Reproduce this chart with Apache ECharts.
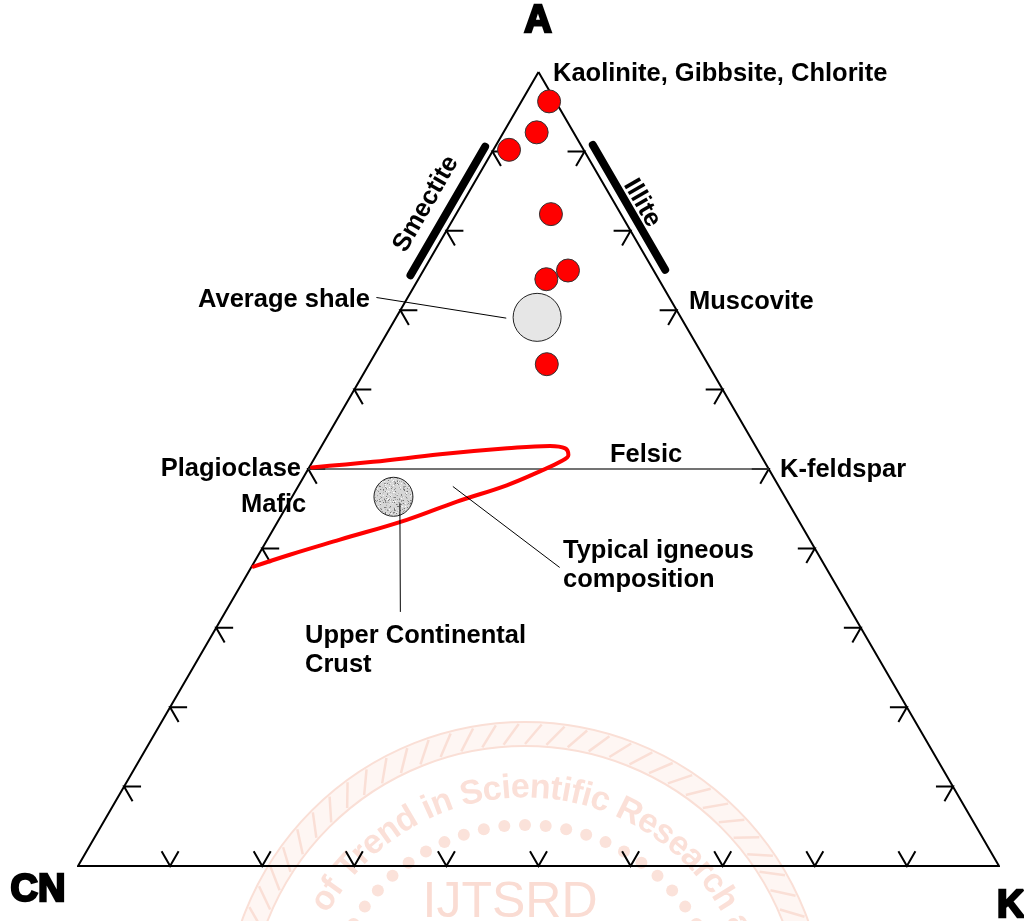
<!DOCTYPE html>
<html>
<head>
<meta charset="utf-8">
<script src="https://cdn.jsdelivr.net/npm/echarts@6/dist/echarts.min.js"></script>
<style>
  html, body { margin: 0; padding: 0; background: #fff; }
  #chart { width: 1024px; height: 921px; }
</style>
</head>
<body>
<div id="chart"></div>
<script>
// A–CN–K ternary diagram (molar %), values given as [A, CN, K]

// sample compositions (red dots)
const sampleA  = [96.3, 92.4, 90.2, 82.1, 75.0, 73.9, 63.2];
const sampleCN = [0.7, 4.0, 8.1, 7.6, 9.3, 12.2, 17.5];
const sampleK  = [3.0, 3.6, 1.7, 10.3, 15.7, 13.9, 19.3];

// reference compositions
const averageShale = [69.1, 15.6, 15.3];
const upperCrust   = [46.5, 42.5, 11.0];

// typical igneous composition trend (closed loop from plagioclase)
const igneousA  = [50.2, 50.9, 51.9, 52.6, 52.9, 52.6, 51.8, 50.9, 49.7, 48.0, 45.9, 43.6, 41.1, 39.2, 37.7];
const igneousCN = [49.5, 42.5, 34.8, 27.1, 22.3, 20.8, 20.9, 22.2, 25.0, 29.5, 35.9, 42.5, 51.0, 57.4, 62.1];
const igneousK  = [0.3, 6.6, 13.4, 20.3, 24.8, 26.6, 27.4, 26.9, 25.3, 22.6, 18.2, 13.9, 7.9, 3.4, 0.2];

// plagioclase – K-feldspar join
const feldsparJoin = [[50, 50, 0], [50, 0, 50]];

// clay mineral ranges drawn just outside the edges
const smectiteBar = [[90.6, 10.5, -1.1], [74.4, 26.7, -1.1]];
const illiteBar   = [[90.8, -1.3, 10.5], [75.1, -1.3, 26.2]];

// leader lines for annotations
const shaleLeader   = [[71.6, 31.8, -3.4], [69.0, 19.0, 12.0]];
const igneousLeader = [[47.8, 35.4, 16.8], [37.6, 28.9, 33.5]];
const crustLeader   = [[45.7, 42.2, 12.1], [32.0, 49.0, 19.0]];

// tick positions along each edge (%)
const tickValues = [10, 20, 30, 40, 50, 60, 70, 80, 90];

// ternary -> cartesian (x: 0..100 across the base, y: A in %)
function tern(a, cn, k) {
  const s = a + cn + k;
  return [(k + a / 2) / s * 100, a / s * 100];
}
const ternList = (list) => list.map(p => tern(p[0], p[1], p[2]));

const triangle = ternList([[100, 0, 0], [0, 100, 0], [0, 0, 100], [100, 0, 0]]);
const samplePts = sampleA.map((a, i) => tern(a, sampleCN[i], sampleK[i]));
const igneousPts = igneousA.map((a, i) => tern(a, igneousCN[i], igneousK[i]));

const bottomTicks = tickValues.map(v => tern(0, 100 - v, v));
const leftTicks   = tickValues.map(v => tern(v, 100 - v, 0));
const rightTicks  = tickValues.map(v => tern(v, 0, 100 - v));

// speckled fill for the crust symbol
function speckle() {
  const c = document.createElement('canvas');
  c.width = c.height = 48;
  const g = c.getContext('2d');
  g.fillStyle = '#d6d6d6';
  g.fillRect(0, 0, 48, 48);
  let s = 7;
  const next = () => { s = (s * 16807) % 2147483647; return s / 2147483647; };
  for (let i = 0; i < 900; i++) {
    const v = Math.floor(110 + next() * 145);
    g.fillStyle = 'rgb(' + v + ',' + v + ',' + v + ')';
    g.fillRect(Math.floor(next() * 48), Math.floor(next() * 48), 1, 1);
  }
  return c;
}
const speckleFill = { image: speckle(), repeat: 'repeat' };

function tickSeries(points, arms) {
  return {
    type: 'custom',
    coordinateSystem: 'cartesian2d',
    data: points,
    silent: true,
    z: 3,
    renderItem(params, api) {
      const p = api.coord([api.value(0), api.value(1)]);
      const L = 17;
      return {
        type: 'polyline',
        shape: { points: [
          [p[0] + arms[0][0] * L, p[1] + arms[0][1] * L],
          p,
          [p[0] + arms[1][0] * L, p[1] + arms[1][1] * L]
        ] },
        style: { stroke: '#000', lineWidth: 2, fill: null }
      };
    }
  };
}

function plainLine(data, color, width, z, cap) {
  return {
    type: 'line',
    data: data,
    symbol: 'none',
    silent: true,
    z: z,
    lineStyle: { color: color, width: width, cap: cap || 'butt', join: 'miter' },
    animation: false
  };
}

// journal seal behind the plot
const sealColor = '#fadfd6';
const wmCx = 525, wmCy = 1023;
const seal = [];
seal.push({
  type: 'ring', silent: true, z: 0,
  shape: { cx: wmCx, cy: wmCy, r: 301, r0: 277 },
  style: { fill: '#fef6f3', stroke: sealColor, lineWidth: 2 }
});
for (let d = -88; d <= 88; d += 4.4) {
  const t1 = d * Math.PI / 180, t2 = (d + 3.2) * Math.PI / 180;
  seal.push({
    type: 'line', silent: true, z: 0,
    shape: {
      x1: wmCx + 279 * Math.sin(t1), y1: wmCy - 279 * Math.cos(t1),
      x2: wmCx + 299 * Math.sin(t2), y2: wmCy - 299 * Math.cos(t2)
    },
    style: { stroke: sealColor, lineWidth: 2.5 }
  });
}
for (let d = -84; d <= 84; d += 6) {
  const t = d * Math.PI / 180;
  seal.push({
    type: 'circle', silent: true, z: 0,
    shape: { cx: wmCx + 198 * Math.sin(t), cy: wmCy - 198 * Math.cos(t), r: 6 },
    style: { fill: '#fbe2da' }
  });
}
(function () {
  const font = "bold 34px 'Liberation Sans'";
  const ctx = document.createElement('canvas').getContext('2d');
  ctx.font = font;
  const R = 235;
  let ang = -61 * Math.PI / 180;
  for (const ch of 'of Trend in Scientific Research and') {
    const w = ctx.measureText(ch).width;
    const mid = ang + (w / 2) / R;
    if (ch !== ' ') {
      seal.push({
        type: 'text', silent: true, z: 0,
        x: wmCx + R * Math.sin(mid), y: wmCy - R * Math.cos(mid),
        rotation: -mid,
        style: { text: ch, font: font, fill: '#fbe0d8', textAlign: 'center', textVerticalAlign: 'middle' }
      });
    }
    ang += w / R;
  }
})();
seal.push({
  type: 'text', silent: true, z: 0, x: 510, y: 903,
  style: { text: 'IJTSRD', font: "50px 'Liberation Sans'", fill: '#fadcd3', textAlign: 'center', textVerticalAlign: 'middle' }
});

// text annotations: [text, x, y, align, rotation (deg), font]
const labelFont = "bold 25.5px 'Liberation Sans'";
const vertexFont = "bold 38px 'Liberation Sans'";
const labels = [
  ['Kaolinite, Gibbsite, Chlorite', 553, 74, 'left', 0, labelFont],
  ['Muscovite', 689, 302, 'left', 0, labelFont],
  ['Average shale', 370, 300, 'right', 0, labelFont],
  ['Plagioclase', 301, 469, 'right', 0, labelFont],
  ['Mafic', 241, 505, 'left', 0, labelFont],
  ['Felsic', 610, 455, 'left', 0, labelFont],
  ['K-feldspar', 780, 470, 'left', 0, labelFont],
  ['Typical igneous', 563, 551, 'left', 0, labelFont],
  ['composition', 563, 580, 'left', 0, labelFont],
  ['Upper Continental', 305, 636, 'left', 0, labelFont],
  ['Crust', 305, 665, 'left', 0, labelFont],
  ['Smectite', 426, 204, 'center', 60, labelFont],
  ['Illite', 642, 203, 'center', -60, labelFont]
];
const vertexLabels = [
  ['A', 538, 22, 'center'],
  ['CN', 38, 891, 'center'],
  ['K', 997, 907, 'left']
];

const textEls = labels.map(l => ({
  type: 'text', silent: true, z: 100,
  x: l[1], y: l[2], rotation: l[4] * Math.PI / 180,
  style: { text: l[0], font: l[5], fill: '#000', textAlign: l[3], textVerticalAlign: 'middle' }
})).concat(vertexLabels.map(l => ({
  type: 'text', silent: true, z: 100,
  x: l[1], y: l[2],
  style: { text: l[0], font: vertexFont, fill: '#000', stroke: '#000', lineWidth: 2.5,
           textAlign: l[3], textVerticalAlign: 'middle' }
})));

const chart = echarts.init(document.getElementById('chart'), null, { renderer: 'canvas' });
chart.setOption({
  animation: false,
  backgroundColor: '#fff',
  grid: { left: 78, right: 25, top: 72, bottom: 55 },
  xAxis: { type: 'value', min: 0, max: 100, show: false },
  yAxis: { type: 'value', min: 0, max: 100, show: false },
  graphic: { elements: seal.concat(textEls) },
  series: [
    plainLine(triangle, '#000', 2, 4),
    plainLine(ternList(feldsparJoin), '#444', 1.5, 4),
    tickSeries(bottomTicks, [[-0.5, -0.866], [0.5, -0.866]]),
    tickSeries(leftTicks, [[1, 0], [0.5, 0.866]]),
    tickSeries(rightTicks, [[-1, 0], [-0.5, 0.866]]),
    plainLine(ternList(smectiteBar), '#000', 8, 4, 'round'),
    plainLine(ternList(illiteBar), '#000', 8, 4, 'round'),
    Object.assign(plainLine(igneousPts, '#ff0000', 4, 5, 'round'), { smooth: 0.4 }),
    plainLine(ternList(shaleLeader), '#000', 1, 6),
    plainLine(ternList(igneousLeader), '#000', 1, 6),
    {
      type: 'scatter', silent: true, z: 5,
      data: [tern(averageShale[0], averageShale[1], averageShale[2])],
      symbolSize: 48,
      itemStyle: { color: '#e6e6e6', borderColor: '#222', borderWidth: 1, opacity: 1 }
    },
    {
      // upper continental crust: speckled disc drawn at true pixel size
      type: 'custom', coordinateSystem: 'cartesian2d', silent: true, z: 5,
      data: [tern(upperCrust[0], upperCrust[1], upperCrust[2])],
      renderItem(params, api) {
        const p = api.coord([api.value(0), api.value(1)]);
        return {
          type: 'circle',
          shape: { cx: p[0], cy: p[1], r: 19.5 },
          style: { fill: speckleFill, stroke: '#222', lineWidth: 1 }
        };
      }
    },
    plainLine(ternList(crustLeader), '#000', 1, 7),
    {
      type: 'scatter', silent: true, z: 8,
      data: samplePts,
      symbolSize: 23,
      itemStyle: { color: '#ff0000', borderColor: '#333', borderWidth: 1, opacity: 1 }
    }
  ]
});
</script>
</body>
</html>
